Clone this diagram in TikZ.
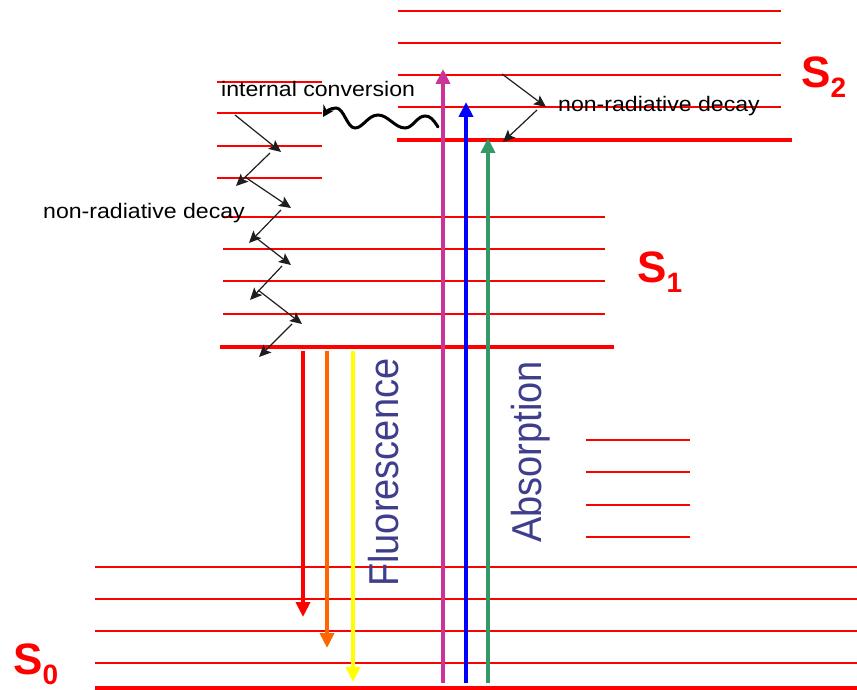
\documentclass[tikz,border=0pt]{standalone}
\usepackage{fontspec}
\setmainfont{Liberation Sans}
\usepackage{graphicx}
\usetikzlibrary{arrows.meta,positioning}
\definecolor{levelred}{RGB}{255,0,0}
\definecolor{inkblue}{RGB}{62,62,140}
\definecolor{uvpink}{RGB}{204,51,153}
\definecolor{uvblue}{RGB}{0,0,255}
\definecolor{uvgreen}{RGB}{51,153,102}
\definecolor{florange}{RGB}{255,102,0}
\definecolor{flyellow}{RGB}{255,255,0}
\definecolor{nrgray}{RGB}{30,30,30}
\tikzset{
  % ---- energy levels ----------------------------------------------------
  vib/.style={draw=levelred, line width=2pt},
  vibg/.style={draw=levelred, line width=4pt},
  % ---- transitions ------------------------------------------------------
  rad/.style={line width=4pt, -{Triangle[length=15pt,width=14pt]}},
  nrd/.style={draw=nrgray, line width=1.2pt,
              -{Stealth[length=12pt,width=11pt,inset=2.5pt]}},
  wave/.style={draw=black, line width=3pt, line cap=round,
               -{Stealth[length=11pt,width=12pt]}},
  % ---- labels -----------------------------------------------------------
  lbl/.style={font=\fontsize{21}{24}\selectfont, text=black, inner sep=0pt},
  big/.style={font=\fontsize{38}{40}\selectfont, text=inkblue, inner sep=0pt,
              rotate=90},
  state/.style={font=\fontsize{44}{46}\selectfont\bfseries, text=levelred,
                inner sep=0pt},
}
\newcommand{\wide}[1]{\scalebox{1.1}[1]{#1}}
\newcommand{\tall}[1]{\scalebox{1}[1.1]{#1}}
\newcommand{\sublvl}[1]{\raisebox{-10pt}{\fontsize{28}{30}\selectfont #1}}

\begin{document}
\begin{tikzpicture}[x=1pt,y=-1pt]
\useasboundingbox (0,0) rectangle (857,690);

% ---- S2 levels ------------------------------------------------------------
\foreach \y in {11,43,75,107} \draw[vib] (398,\y) -- (781,\y);
\draw[vibg] (397,140) -- (792,140);

% ---- S1 levels ------------------------------------------------------------
\foreach \y in {82,113,146,178} \draw[vib] (217,\y) -- (322,\y);
\foreach \y in {217,249,281,314} \draw[vib] (223,\y) -- (605,\y);
\draw[vibg] (220,347) -- (614,347);
\foreach \y in {440,472,505,537} \draw[vib] (586,\y) -- (690,\y);

% ---- S0 levels ------------------------------------------------------------
\foreach \y in {567,599,631,663} \draw[vib] (95,\y) -- (857,\y);
\draw[vibg] (95,688) -- (857,688);

% ---- state labels ---------------------------------------------------------
\node[state, anchor=base west] (s0) at (13,674) {S\sublvl{0}};
\node[state, anchor=base west] (s1) at (637,282) {S\sublvl{1}};
\node[state, anchor=base west] (s2) at (801,88) {S\sublvl{2}};

% ---- fluorescence ---------------------------------------------------------
\foreach \n/\x/\yb/\c in {1/303/617/levelred, 2/327/648/florange,
                          3/353/682/flyellow} {
  \coordinate (fa\n) at (\x,351);
  \coordinate (fb\n) at (\x,\yb);
  \draw[rad, color=\c] (fa\n) -- (fb\n);
}

% ---- absorption -----------------------------------------------------------
\foreach \n/\x/\yt/\c in {1/443/69/uvpink, 2/466/102/uvblue,
                          3/488/138/uvgreen} {
  \coordinate (aa\n) at (\x,683);
  \coordinate (ab\n) at (\x,\yt);
  \draw[rad, color=\c] (aa\n) -- (ab\n);
}

% ---- non-radiative decay --------------------------------------------------
\foreach \n/\p/\q in {1/{235,115}/{281,152}, 2/{270,153}/{236,186},
                      3/{245,177}/{291,208}, 4/{281,210}/{249,243},
                      5/{255,237}/{291,265}, 6/{282,266}/{250,300},
                      7/{258,290}/{302,324}, 8/{292,324}/{259,357},
                      9/{502,74}/{546,107}, 10/{537,110}/{503,142}} {
  \coordinate (za\n) at (\p);
  \coordinate (zb\n) at (\q);
  \draw[nrd] (za\n) -- (zb\n);
}

% ---- internal conversion --------------------------------------------------
\coordinate (ws) at (438,127);
\coordinate (we) at (323,117);
\draw[wave] (ws) .. controls (433,119) and (430,116) .. (425,116)
  .. controls (417,116) and (413,128) .. (405,128)
  .. controls (395,128) and (388,115) .. (378,115)
  .. controls (368,115) and (363,128) .. (355,128)
  .. controls (347,128) and (344,108) .. (336,108)
  .. controls (330,108) and (326,112) .. (we);

% ---- texts ----------------------------------------------------------------
\node[lbl, anchor=base west] (ic) at (221,97) {\wide{internal conversion}};
\node[lbl, anchor=base west] (nrl) at (43,218) {\wide{non-radiative decay}};
\node[lbl, anchor=base west] (nrr) at (558,112) {\wide{non-radiative decay}};
\node[big, anchor=base west] (fl) at (398,587) {\tall{Fluorescence}};
\node[big, anchor=base west] (ab) at (541,543) {\tall{Absorption}};

\end{tikzpicture}
\end{document}
